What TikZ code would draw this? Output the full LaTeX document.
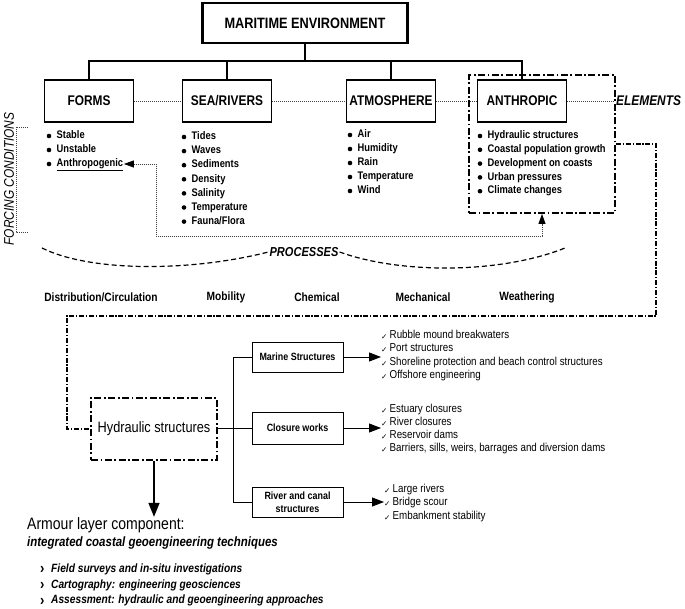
\documentclass[tikz,border=0pt]{standalone}
\usepackage{fontspec}
\usepackage{graphicx}
\setmainfont{Liberation Sans}[FakeStretch=0.85]
\newfontfamily\dejavu{DejaVu Sans}
\usetikzlibrary{positioning,arrows.meta}

\newcommand{\chk}{\makebox[8.5pt][l]{\raisebox{-1pt}{\dejavu\fontsize{7.5}{7.5}\selectfont ✓}}}
\newcommand{\chev}{\makebox[11pt][l]{\raisebox{-1.5pt}{\upshape\bfseries\fontsize{11}{11}\selectfont\scalebox{1.4}{›}}}}

\begin{document}
\begin{tikzpicture}[
    x=1pt, y=-1pt,
    topbox/.style={draw, line width=2.4pt, minimum width=205pt, minimum height=40pt, inner sep=0pt, font=\fontsize{15}{18}\selectfont\bfseries},
    elem/.style={draw, line width=1.3pt, minimum width=89pt, minimum height=42pt, inner sep=0pt, font=\fontsize{14}{17}\selectfont\bfseries},
    item/.style={anchor=west, inner sep=0.5pt, text height=8pt, text depth=2.5pt, font=\fontsize{11}{14}\selectfont\bfseries},
    dot/.style={fill=black},
    ddbox/.style={draw, line width=1.8pt, dash pattern=on 7pt off 2.5pt on 1.8pt off 2.5pt, inner sep=0pt},
    ddlink/.style={line width=1.1pt, dash pattern=on 5pt off 1.8pt on 1.2pt off 1.8pt},
    dots/.style={line width=0.8pt, draw=black!75, dash pattern=on 1pt off 1pt},
    conn/.style={line width=1.3pt},
    subbox/.style={draw, line width=0.9pt, minimum width=91pt, minimum height=30pt, inner sep=0pt, align=center, font=\fontsize{10.5}{13}\selectfont\bfseries},
    checks/.style={anchor=west, inner sep=0pt, align=left, font=\fontsize{11.5}{13.3}\selectfont},
    proc/.style={font=\fontsize{12}{14}\selectfont\bfseries},
    arrowR/.style={-{Triangle[length=12pt,width=9pt]}, line width=0.9pt},
    aitem/.style={anchor=base west, inner sep=0pt, font=\fontsize{12}{14}\selectfont\bfseries\itshape}
  ]
    \useasboundingbox (0,0) rectangle (685,609);

    % top of the tree
    \node[topbox] (env) at (305,23) {MARITIME ENVIRONMENT};
    \node[elem] (forms) at (89,101) {FORMS};
    \node[elem] (sea) at (227,101) {SEA/RIVERS};
    \node[elem] (atmos) at (391,101) {ATMOSPHERE};
    \node[elem] (anthro) at (522,101) {ANTHROPIC};
    \node[anchor=west, inner sep=1pt, font=\fontsize{14}{17}\selectfont\bfseries\itshape] (elements) at (615,101) {ELEMENTS};

    \coordinate (bus) at (305,61);
    \draw[conn] (env) -- (bus);
    \foreach \n in {forms,sea,atmos,anthro}
      \draw[conn] (bus) -| (\n);

    \draw[dots] (forms) -- (sea);
    \draw[dots] (sea) -- (atmos);
    \draw[dots] (atmos) -- (anthro);
    \draw[dots] (anthro) -- (elements);

    % element lists
    \foreach \t [count=\i] in {Stable,Unstable,\underline{Anthropogenic}}{
      \node[item] (fm\i) at (56,{136+14*(\i-1)}) {\t};
      \fill[dot] ([xshift=-7pt]fm\i.west) circle (2.3pt);
    }
    \foreach \t [count=\i] in {Tides,Waves,Sediments,Density,Salinity,Temperature,Fauna/Flora}{
      \node[item] (sr\i) at (191,{137+14.1*(\i-1)}) {\t};
      \fill[dot] ([xshift=-7pt]sr\i.west) circle (2.3pt);
    }
    \foreach \t [count=\i] in {Air,Humidity,Rain,Temperature,Wind}{
      \node[item] (at\i) at (357,{135+14*(\i-1)}) {\t};
      \fill[dot] ([xshift=-7pt]at\i.west) circle (2.3pt);
    }
    \foreach \t [count=\i] in {Hydraulic structures,Coastal population growth,Development on coasts,Urban pressures,Climate changes}{
      \node[item] (an\i) at (487,{136+13.8*(\i-1)}) {\t};
      \fill[dot] ([xshift=-7pt]an\i.west) circle (2.3pt);
    }

    \node[ddbox, minimum width=146pt, minimum height=138pt] (anthframe) at (542,144) {};

    % forcing conditions
    \node[rotate=90, font=\fontsize{14}{17}\selectfont\itshape] (forcing) at (9,179) {FORCING CONDITIONS};
    \draw[dots] (28,127) -| (16,232) -- (28,232);

    \coordinate (bend) at (156,236);
    \draw[dots, {Triangle[length=10pt,width=7pt,black]}-{Triangle[length=10pt,width=7pt,black]}] (fm3.east) -| (bend) -| (anthframe.south);

    % processes
    \node[font=\fontsize{13}{16}\selectfont\bfseries\itshape, inner sep=1pt] (procs) at (304,252) {PROCESSES};
    \coordinate (pl) at (42,248);
    \coordinate (pr) at (565,248);
    \draw[line width=1.2pt, dash pattern=on 5pt off 3pt] (pl) .. controls (90,272) and (190,272) .. (procs.west);
    \draw[line width=1.2pt, dash pattern=on 5pt off 3pt] (procs.east) .. controls (400,274) and (500,274) .. (pr);

    \node[proc] (p1) at (101,297) {Distribution/Circulation};
    \node[proc] (p2) at (226,297) {Mobility};
    \node[proc] (p3) at (317,297) {Chemical};
    \node[proc] (p4) at (423,297) {Mechanical};
    \node[proc] (p5) at (527,297) {Weathering};

    % hydraulic structures
    \node[ddbox, minimum width=126pt, minimum height=62pt, font=\fontsize{15}{18}\selectfont] (hyd) at (154,429) {Hydraulic structures};
    \coordinate (turnA) at (656,316);
    \coordinate (turnB) at (67,316);
    \draw[ddlink] (anthframe.east) -| (turnA) -- (turnB) |- (hyd.west);

    \node[subbox] (marine) at (297.5,357) {Marine Structures};
    \node[subbox, minimum height=32pt] (closure) at (297.5,428) {Closure works};
    \node[subbox] (river) at (297.5,502) {River and canal\\structures};

    \draw[line width=0.9pt] (hyd.east |- closure) -- (closure);
    \draw[line width=0.9pt] (marine.west) -- ++(-18,0) |- (river.west);

    \node[checks] (mlist) at (381,355.5) {\chk Rubble mound breakwaters\\ \chk Port structures\\ \chk Shoreline protection and beach control structures\\ \chk Offshore engineering};
    \node[checks] (clist) at (381,429) {\chk Estuary closures\\ \chk River closures\\ \chk Reservoir dams\\ \chk Barriers, sills, weirs, barrages and diversion dams};
    \node[checks] (rlist) at (384,503) {\chk Large rivers\\ \chk Bridge scour\\ \chk Embankment stability};

    \draw[arrowR] (marine) -- (marine -| mlist.west);
    \draw[arrowR] (closure) -- (closure -| clist.west);
    \draw[arrowR] (river) -- (river -| rlist.west);

    % armour layer
    \node[anchor=base west, inner sep=0pt, font=\fontsize{16.5}{20}\selectfont] (armour) at (27,529) {Armour layer component:};
    \node[anchor=base west, inner sep=0pt, font=\fontsize{13.5}{16}\selectfont\bfseries\itshape] (integ) at (27,546.5) {integrated coastal geoengineering techniques};
    \draw[line width=1.5pt, -{Triangle[length=14pt,width=11pt]}] (hyd.south) -- (hyd.south |- armour.north);

    \foreach \t [count=\i] in {Field surveys and in-situ investigations,Cartography: engineering geosciences,Assessment: hydraulic and geoengineering approaches}
      \node[aitem] (a\i) at (40,{556.5+15.8*\i}) {\chev\t};
  \end{tikzpicture}
\end{document}
